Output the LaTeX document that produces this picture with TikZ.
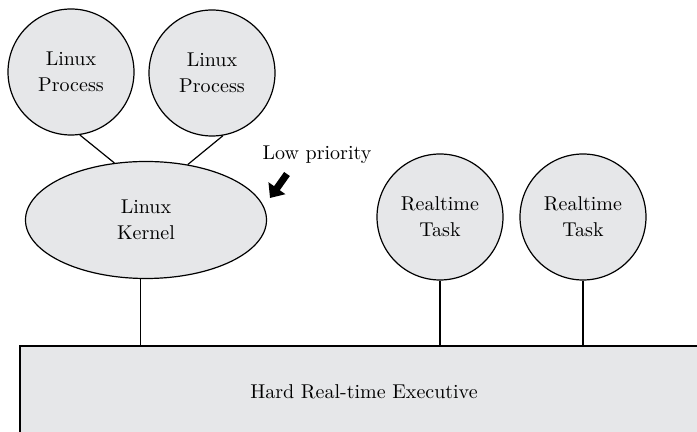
\documentclass[tikz,border=0pt]{standalone}
\usepackage{tikz}
\usetikzlibrary{arrows.meta,shapes.geometric}
\definecolor{nodegray}{RGB}{230,231,233}

\begin{document}
\begin{tikzpicture}[x=0.5pt,y=-0.5pt,
  every node/.style={font=\fontsize{10}{13}\selectfont},
  proc/.style={circle,draw,fill=nodegray,line width=0.6pt,minimum size=63pt,inner sep=0pt,align=center},
  kern/.style={ellipse,draw,fill=nodegray,line width=0.6pt,minimum width=120.5pt,minimum height=58.5pt,inner sep=0pt,align=center},
  link/.style={line width=0.6pt}]
\clip (0,0) rectangle (697,432);
\node[proc] (lp1) at (71,72) {Linux\\Process};
\node[proc] (lp2) at (212,73) {Linux\\Process};
\node[kern] (kernel) at (146,220) {Linux\\Kernel};
\node[proc] (rt1) at (440,217) {Realtime\\Task};
\node[proc] (rt2) at (583,217) {Realtime\\Task};
\node[draw,fill=nodegray,line width=0.6pt,minimum width=344pt,minimum height=46pt] (exec) at (364,392) {Hard Real-time Executive};
\node (low) at (317,155) {Low priority};
\coordinate (tail) at (287,174);
\coordinate (tip) at (270,198);
\draw[line width=3.5pt,-{Triangle[length=6pt,width=10pt]}] (tail) -- (tip);
\draw[link] (lp1.-82) -- (kernel.119);
\draw[link] (lp2.-80) -- (kernel.53);
\draw[link] (kernel.-95) -- (kernel.-95 |- exec.north);
\draw[link] (rt1.south) -- (rt1.south |- exec.north);
\draw[link] (rt2.south) -- (rt2.south |- exec.north);
\end{tikzpicture}
\end{document}
